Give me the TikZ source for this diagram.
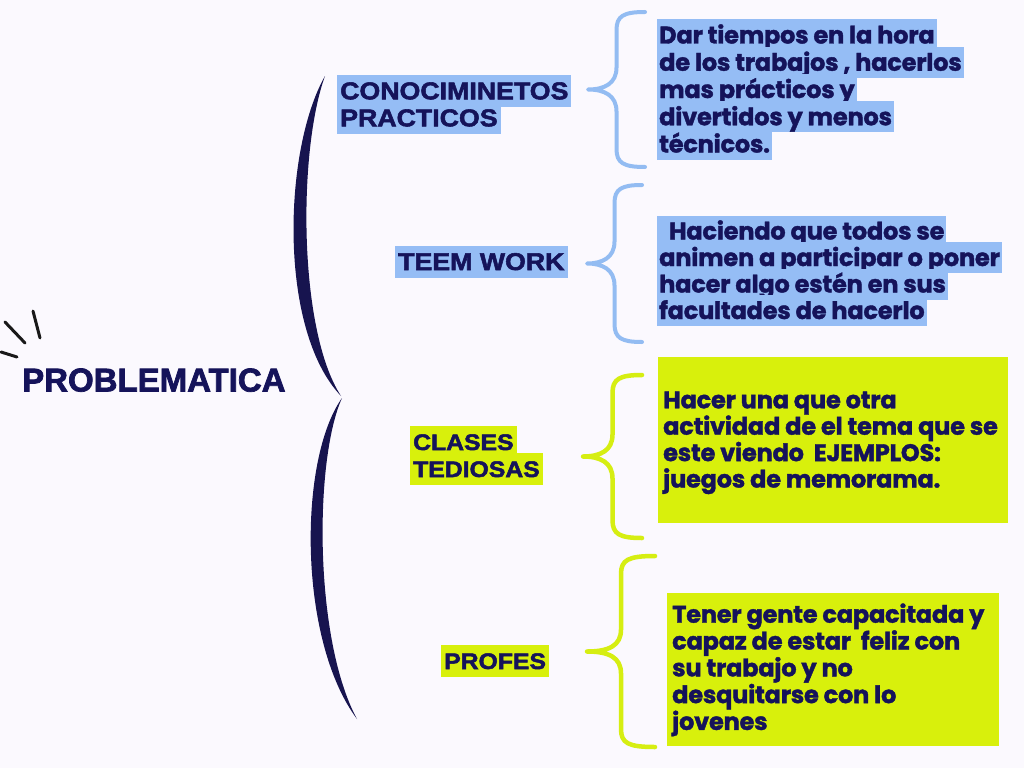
\documentclass[tikz,border=0pt]{standalone}
\usepackage{fontspec}
\setmainfont{Poppins}
\newfontfamily\labfont{Liberation Sans}[FakeStretch=1.1,FakeBold=2.2]
\newfontfamily\titlefont{Liberation Sans}[FakeBold=2.2]
\newfontfamily\bodyfont{Poppins}[LetterSpace=-0.8,FakeBold=1.6]
\definecolor{bgc}{HTML}{FBF9FE}
\definecolor{navy}{HTML}{15135A}
\definecolor{brnavy}{HTML}{17144F}
\definecolor{hlb}{HTML}{95BDF5}
\definecolor{hll}{HTML}{D8F00C}
\definecolor{brblue}{HTML}{93BCF2}
\definecolor{brlime}{HTML}{D6EE12}
\newcommand{\curlybr}[5]{%
  \pgfmathsetmacro{\xv}{(#2+#3)/2}%
  \pgfmathsetmacro{\ym}{(#4+#5)/2}%
  \draw[#1] (#2,#4) .. controls ({\xv+7},#4) and (\xv,{#4+4}) .. (\xv,{#4+18})
    -- (\xv,{\ym-22}) .. controls (\xv,{\ym-6}) and ({\xv-12},\ym) .. (#3,\ym)
    .. controls ({\xv-12},\ym) and (\xv,{\ym+6}) .. (\xv,{\ym+22})
    -- (\xv,{#5-18}) .. controls (\xv,{#5-4}) and ({\xv+7},#5) .. (#2,#5);}
\begin{document}
\begin{tikzpicture}[x=1pt,y=-1pt,
  bodytxt/.style={inner xsep=2pt, inner ysep=0pt, text height=24pt, text depth=7pt,
    anchor=base west, text=navy, font=\bodyfont\bfseries\fontsize{24}{27}\selectfont},
  hlblue/.style={bodytxt, fill=hlb},
  labtxt/.style={inner xsep=3pt, inner ysep=0pt, text height=24pt, text depth=8pt,
    anchor=base west, text=navy, font=\labfont\bfseries\fontsize{#1}{27}\selectfont},
  labblue/.style={labtxt=24.3, fill=hlb},
  lablime/.style={labtxt=22.5, fill=hll},
  limebox/.style={fill=hll, inner sep=0pt, anchor=north west},
  bluebrace/.style={draw=brblue, line width=4pt, line cap=round, line join=round},
  limebrace/.style={draw=brlime, line width=4.5pt, line cap=round, line join=round},
  spark/.style={draw=black!90, line width=3pt, line cap=round}]
\fill[bgc] (0,0) rectangle (1024,768);
\useasboundingbox (0,0) rectangle (1024,768);

% sparks
\draw[spark] (5,322) -- (25,343);
\draw[spark] (33,311) -- (40,338);
\draw[spark] (1,352) -- (17,357);

% title
\node[anchor=base west, inner sep=0pt, text=navy,
  font=\titlefont\bfseries\fontsize{33}{36}\selectfont] (prob) at (22,391.5) {PROBLEMATICA};

% big brace
\fill[brnavy] (325,76) .. controls (283,150) and (278,330) .. (341,396)
  .. controls (298,330) and (298,150) .. (325,76) -- cycle;
\fill[brnavy] (342,398) .. controls (298,460) and (298,640) .. (357,719)
  .. controls (314,640) and (314,460) .. (342,398) -- cycle;

% labels
\node[labblue] (l1a) at (337,99.3) {CONOCIMINETOS};
\node[labblue] (l1b) at (337,126.3) {PRACTICOS};
\node[labblue] (l2) at (395,270) {TEEM WORK};
\node[lablime] (l3a) at (410,450) {CLASES};
\node[lablime] (l3b) at (410,477) {TEDIOSAS};
\node[lablime] (l4) at (441,669) {PROFES};

% small braces
\curlybr{bluebrace}{645}{588}{12}{167}
\curlybr{bluebrace}{642}{587}{185}{342}
\curlybr{limebrace}{642}{583}{375}{538}
\curlybr{limebrace}{655}{587}{556}{747}

% box 1
\node[hlblue] (b1a) at (657,43.5) {Dar tiempos en la hora};
\node[hlblue] (b1b) at (657,70.75) {de los trabajos , hacerlos};
\node[hlblue] (b1c) at (657,98) {mas prácticos y};
\node[hlblue] (b1d) at (657,125.25) {divertidos y menos};
\node[hlblue] (b1e) at (657,152.5) {técnicos.};

% box 2
\node[hlblue] (b2a) at (657,239.5) {\ \ Haciendo que todos se};
\node[hlblue] (b2b) at (657,266) {animen a participar o poner};
\node[hlblue] (b2c) at (657,292.5) {hacer algo estén en sus};
\node[hlblue] (b2d) at (657,319) {facultades de hacerlo};

% box 3
\node[limebox, minimum width=350pt, minimum height=166pt] (r3) at (658,357) {};
\node[bodytxt] (b3a) at (661,408.3) {Hacer una que otra};
\node[bodytxt] (b3b) at (661,434.7) {actividad de el tema que se};
\node[bodytxt] (b3c) at (661,461.1) {este viendo\ \ EJEMPLOS:};
\node[bodytxt] (b3d) at (661,487.5) {juegos de memorama.};

% box 4
\node[limebox, minimum width=332pt, minimum height=153pt] (r4) at (667,593) {};
\node[bodytxt] (b4a) at (670,622.7) {Tener gente capacitada y};
\node[bodytxt] (b4b) at (670,649.5) {capaz de estar\ \ feliz con};
\node[bodytxt] (b4c) at (670,676.3) {su trabajo y no};
\node[bodytxt] (b4d) at (670,703.1) {desquitarse con lo};
\node[bodytxt] (b4e) at (670,729.9) {jovenes};
\end{tikzpicture}
\end{document}
